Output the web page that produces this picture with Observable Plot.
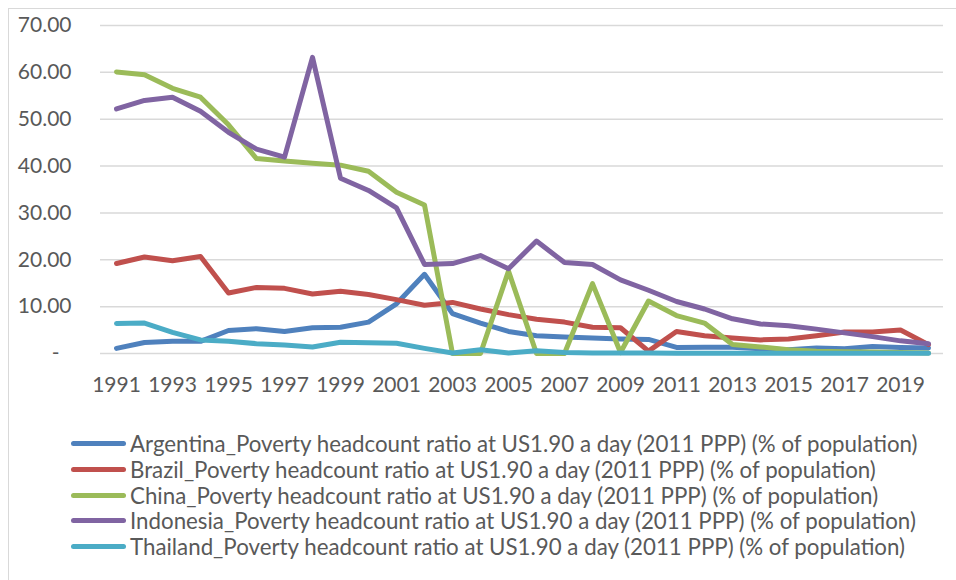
<!DOCTYPE html>
<html>
<head>
<meta charset="utf-8">
<script src="https://cdn.jsdelivr.net/npm/d3@7"></script>
<script src="https://cdn.jsdelivr.net/npm/@observablehq/plot@0.6"></script>
<style>
  html, body { margin: 0; padding: 0; background: #fff; width: 956px; height: 580px; overflow: hidden; }
  #frame { position: absolute; left: 8px; top: 8px; width: 1000px; height: 1000px;
           border-left: 1.5px solid #d9d9d9; border-top: 1.5px solid #d9d9d9; }
  #chart { position: absolute; left: 0; top: 0; }
  #legend { position: absolute; left: 71px; top: 431px; font-family: Lato, "Open Sans", sans-serif;
            font-size: 22.3px; color: #595959; }
  .row { display: flex; align-items: center; height: 25.7px; white-space: nowrap; }
  .sw { width: 55px; height: 5px; border-radius: 3px; margin-right: 4px; flex: none; }
</style>
</head>
<body>
<div id="frame"></div>
<div id="chart"></div>
<div id="legend"></div>
<script>
const years = [1991,1992,1993,1994,1995,1996,1997,1998,1999,2000,
               2001,2002,2003,2004,2005,2006,2007,2008,2009,2010,
               2011,2012,2013,2014,2015,2016,2017,2018,2019,2020];
const tickYears = [1991,1993,1995,1997,1999,2001,2003,2005,2007,2009,2011,2013,2015,2017,2019];
const yTicks = [10,20,30,40,50,60,70];

const argentina = [1.1,2.35,2.6,2.6,4.9,5.3,4.7,5.5,5.6,6.7,
                   10.6,16.9,8.5,6.5,4.7,3.8,3.5,3.3,3.1,3.0,
                   1.3,1.35,1.35,1.0,0.8,1.2,1.0,1.5,1.3,1.2];
const brazil    = [19.2,20.6,19.8,20.7,12.9,14.1,13.9,12.7,13.3,12.6,
                   11.5,10.3,10.9,9.5,8.3,7.3,6.7,5.6,5.5,0.5,
                   4.7,3.8,3.3,2.9,3.1,3.8,4.6,4.6,5.0,1.9];
const china     = [60.1,59.5,56.6,54.7,48.8,41.6,41.1,40.6,40.2,38.9,
                   34.4,31.7,0,0,17.6,0,0,14.9,0.2,11.2,
                   8.1,6.5,1.9,1.4,0.8,0.5,0.4,0.3,0.2,0.1];
const indonesia = [52.2,54.0,54.7,51.7,47.2,43.6,41.9,63.2,37.4,34.8,
                   31.1,19.0,19.2,20.9,18.1,24.0,19.4,19.0,15.7,13.5,
                   11.1,9.5,7.4,6.3,5.9,5.2,4.4,3.6,2.7,2.1];
const thailand  = [6.4,6.5,4.5,2.9,2.6,2.1,1.8,1.4,2.4,2.3,
                   2.2,1.1,0.1,0.8,0.1,0.6,0.2,0.1,0.1,0.1,
                   0.05,0.05,0.05,0.05,0.05,0.05,0.05,0.05,0.05,0.05];

const suffix = "_Poverty headcount ratio at US1.90 a day (2011 PPP) (% of population)";
const seriesNames = ["Argentina","Brazil","China","Indonesia","Thailand"];
const seriesValues = [argentina, brazil, china, indonesia, thailand];
const colors = ["#4F81BD","#C0504D","#9BBB59","#8064A2","#4BACC6"];

const rows = seriesNames.flatMap((name, i) =>
  years.map((yr, j) => ({series: name + suffix, year: yr, value: seriesValues[i][j]})));

const font = "Lato, 'Open Sans', sans-serif";
const plot = Plot.plot({
  width: 956,
  height: 400,
  marginLeft: 100,
  marginRight: 13,
  marginTop: 25,
  marginBottom: 47,
  style: {fontFamily: font, color: "#595959", background: "transparent"},
  x: {type: "point", domain: years, padding: 0.5},
  y: {domain: [0, 70]},
  color: {domain: seriesNames.map(n => n + suffix), range: colors},
  marks: [
    Plot.ruleY([0, ...yTicks], {stroke: "#d9d9d9", strokeWidth: 1.5}),
    Plot.axisY({ticks: yTicks, tickSize: 0, tickPadding: 29, fontSize: 21,
                tickFormat: d => d.toFixed(2), label: null}),
    Plot.axisY({ticks: [0], tickSize: 0, tickPadding: 41, fontSize: 21,
                tickFormat: () => "-", label: null}),
    Plot.axisX({ticks: tickYears, tickSize: 0, tickPadding: 24, fontSize: 21,
                tickFormat: d => String(d), label: null}),
    Plot.line(rows, {x: "year", y: "value", z: "series", stroke: "series",
                     strokeWidth: 5, strokeLinecap: "round", strokeLinejoin: "round"})
  ]
});
document.getElementById("chart").appendChild(plot);

const legend = document.getElementById("legend");
seriesNames.forEach((name, i) => {
  const row = document.createElement("div");
  row.className = "row";
  const sw = document.createElement("span");
  sw.className = "sw";
  sw.style.background = colors[i];
  const tx = document.createElement("span");
  tx.textContent = name + suffix;
  row.appendChild(sw);
  row.appendChild(tx);
  legend.appendChild(row);
});
</script>
</body>
</html>
